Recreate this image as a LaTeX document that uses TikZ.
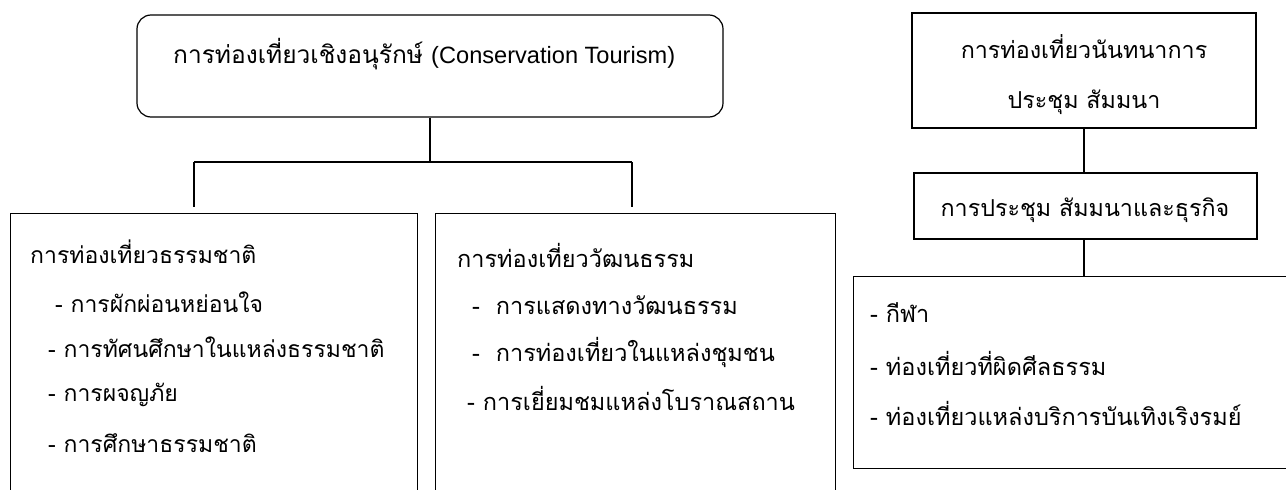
\documentclass[tikz,border=0pt]{standalone}
\usepackage{fontspec}
\setmainfont[Script=Thai]{Loma}
\newfontfamily\latinfont{Liberation Sans}
\usepackage{tikz}
\usetikzlibrary{positioning}
\newcommand\thaitxt{\fontsize{23.5}{28}\selectfont}

\begin{document}
\begin{tikzpicture}[x=1pt,y=-1pt,
  box/.style={draw,line width=1.2pt,inner sep=0pt},
  txt/.style={anchor=west,inner sep=0pt,font=\thaitxt},
  link/.style={line width=1.2pt}]
\useasboundingbox (0,0) rectangle (1286,490);
\clip (0,0) rectangle (1286,490);
% conservation tree
\node[box,rounded corners=14pt,minimum width=586pt,minimum height=102pt] (cons) at (430,66) {};
\node[txt,font=\fontsize{24.5}{28}\selectfont] (consT) at (173,54) {การท่องเที่ยวเชิงอนุรักษ์ {\latinfont\fontsize{23.6}{28}\selectfont (Conservation Tourism)}};
\node[box,minimum width=407pt,minimum height=320pt,anchor=north west] (nat) at (10,213) {};
\node[box,minimum width=400pt,minimum height=320pt,anchor=north west] (cult) at (435,213) {};
\node[txt,font=\fontsize{23}{28}\selectfont] (natT) at (30,252) {การท่องเที่ยวธรรมชาติ};
\node[txt,font=\fontsize{23}{28}\selectfont] (nat1) at (55,302) {- การผักผ่อนหย่อนใจ};
\node[txt,font=\fontsize{23}{28}\selectfont] (nat2) at (48,347) {- การทัศนศึกษาในแหล่งธรรมชาติ};
\node[txt,font=\fontsize{23}{28}\selectfont] (nat3) at (48,395) {- การผจญภัย};
\node[txt,font=\fontsize{23}{28}\selectfont] (nat4) at (48,443) {- การศึกษาธรรมชาติ};
\node[txt] (cultT) at (457,255) {การท่องเที่ยววัฒนธรรม};
\node[txt] (cult1) at (472,305) {-\ \ การแสดงทางวัฒนธรรม};
\node[txt] (cult2) at (472,352) {-\ \ การท่องเที่ยวในแหล่งชุมชน};
\node[txt] (cult3) at (467,398) {- การเยี่ยมชมแหล่งโบราณสถาน};
%
\coordinate (jL) at (194,162);
\coordinate (jR) at (632,162);
\draw[link] (cons.south) -- (cons.south |- jL);
\draw[link] (jL) -- (jR);
\draw[link,shorten >=6pt] (jL) -- (jL |- nat.north);
\draw[link,shorten >=6pt] (jR) -- (jR |- cult.north);
% business tree
\node[box,line width=2.2pt,minimum width=344pt,minimum height=115pt] (leis) at (1084,70.5) {};
\node[align=center,inner sep=0pt,font=\fontsize{23.3}{50}\selectfont] (leisT) at (1084,75) {การท่องเที่ยวนันทนาการ\\ประชุม สัมมนา};
\node[box,minimum width=343pt,minimum height=66pt] (meet) at (1085.5,206) {};
\node[inner sep=0pt,font=\fontsize{23.3}{28}\selectfont] (meetT) at (1085,210) {การประชุม สัมมนาและธุรกิจ};
\node[box,minimum width=450pt,minimum height=192pt,anchor=north west] (list) at (853,276) {};
\node[txt] (list1) at (870,313) {- กีฬา};
\node[txt] (list2) at (870,363) {- ท่องเที่ยวที่ผิดศีลธรรม};
\node[txt] (list3) at (870,413) {- ท่องเที่ยวแหล่งบริการบันเทิงเริงรมย์};
\draw[link] (leis.south) -- (leis.south |- meet.north);
\draw[link] (leis.south |- meet.south) -- (leis.south |- list.north);
\end{tikzpicture}
\end{document}
